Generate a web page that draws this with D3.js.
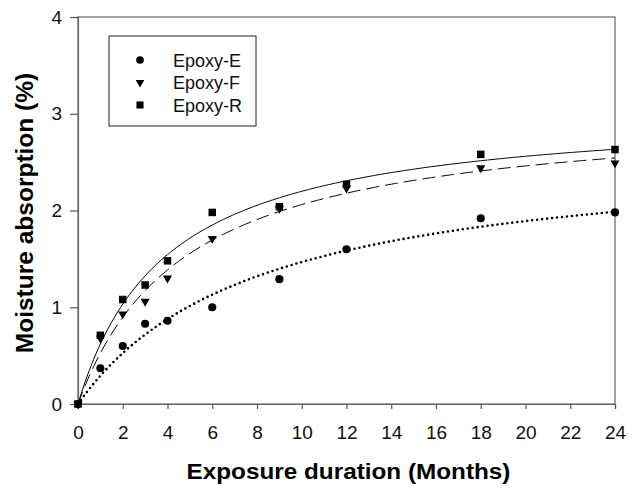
<!DOCTYPE html>
<html>
<head>
<meta charset="utf-8">
<script src="https://cdn.jsdelivr.net/npm/d3@7"></script>
<style>
  body { margin: 0; background: #fff; }
  text { font-family: "Liberation Sans", Arial, sans-serif; }
</style>
</head>
<body>
<div class="canva"></div>
<script>
// months of exposure
const months = [0, 1, 2, 3, 4, 6, 9, 12, 18, 24];
// moisture absorption (%) per resin
const epoxyE = [0, 0.37, 0.60, 0.83, 0.86, 1.00, 1.29, 1.60, 1.92, 1.98];
const epoxyF = [0, 0.68, 0.93, 1.06, 1.30, 1.71, 2.02, 2.23, 2.44, 2.49];
const epoxyR = [0, 0.71, 1.08, 1.23, 1.48, 1.98, 2.04, 2.27, 2.58, 2.63];
const seriesNames = ['Epoxy-E', 'Epoxy-F', 'Epoxy-R'];
const xTicks = [0, 2, 4, 6, 8, 10, 12, 14, 16, 18, 20, 22, 24];
const yTicks = [0, 1, 2, 3, 4];

const W = 632, H = 495;
const m = {left: 78, right: 17, top: 17, bottom: 91};

const svg = d3.select('.canva').append('svg')
  .attr('width', W).attr('height', H);

const x = d3.scaleLinear().domain([0, 24]).range([m.left, W - m.right]);
const y = d3.scaleLinear().domain([0, 4]).range([H - m.bottom, m.top]);

// least squares fit of y = a*x/(b+x) to each series
function fitHyper(ys) {
  let best = {a: 1, b: 1, e: Infinity};
  for (let b = 0.5; b <= 20; b += 0.01) {
    let sxy = 0, sxx = 0;
    months.forEach((t, i) => { const g = t / (b + t); sxy += g * ys[i]; sxx += g * g; });
    const a = sxy / sxx;
    let e = 0;
    months.forEach((t, i) => { const r = ys[i] - a * t / (b + t); e += r * r; });
    if (e < best.e) best = {a, b, e};
  }
  return best;
}

const series = [
  {name: seriesNames[0], vals: epoxyE, sym: d3.symbolCircle, size: 52, dash: '0,5', width: 2.6, cap: 'round'},
  {name: seriesNames[1], vals: epoxyF, sym: d3.symbolTriangle, size: 36, dash: '13,6', width: 1, cap: 'butt', down: true},
  {name: seriesNames[2], vals: epoxyR, sym: d3.symbolSquare, size: 56, dash: null, width: 1, cap: 'butt'}
];

// frame
svg.append('rect')
  .attr('x', m.left).attr('y', m.top)
  .attr('width', W - m.left - m.right).attr('height', H - m.top - m.bottom)
  .attr('fill', 'none').attr('stroke', '#666').attr('stroke-width', 1.2);

const xAxis = svg.append('g')
  .attr('transform', `translate(0,${H - m.bottom})`)
  .call(d3.axisBottom(x).tickValues(xTicks).tickFormat(d3.format('d')).tickSize(5).tickPadding(17));
const yAxis = svg.append('g')
  .attr('transform', `translate(${m.left},0)`)
  .call(d3.axisLeft(y).tickValues(yTicks).tickFormat(d3.format('d')).tickSize(8).tickPadding(8));
[xAxis, yAxis].forEach(g => {
  g.select('.domain').attr('stroke', '#666').attr('stroke-width', 1.2);
  g.selectAll('.tick line').attr('stroke', '#555').attr('stroke-width', 1.2);
  g.selectAll('.tick text').attr('font-size', 19).attr('fill', '#111')
    .style('font-family', '"Liberation Sans", Arial, sans-serif');
});

// fit curves
const line = d3.line().x(d => x(d[0])).y(d => y(d[1])).curve(d3.curveLinear);
series.forEach(s => {
  const f = fitHyper(s.vals);
  const pts = d3.range(0, 24.001, 0.1).map(t => [t, f.a * t / (f.b + t)]);
  svg.append('path')
    .attr('d', line(pts))
    .attr('fill', 'none').attr('stroke', '#000')
    .attr('stroke-width', s.width)
    .attr('stroke-dasharray', s.dash)
    .attr('stroke-linecap', s.cap);
});

// markers
series.forEach(s => {
  svg.append('g').selectAll('path')
    .data(months.map((t, i) => [t, s.vals[i]]))
    .join('path')
    .attr('transform', d => `translate(${x(d[0])},${y(d[1])})${s.down ? ' rotate(180)' : ''}`)
    .attr('d', d3.symbol().type(s.sym).size(s.size))
    .attr('fill', '#000');
});

// legend
const lg = svg.append('g');
lg.append('rect').attr('x', 109).attr('y', 36).attr('width', 147).attr('height', 90)
  .attr('fill', '#fff').attr('stroke', '#222').attr('stroke-width', 1);
series.forEach((s, i) => {
  const cy = 60 + i * 22.5;
  lg.append('path')
    .attr('transform', `translate(140,${cy})${s.down ? ' rotate(180)' : ''}`)
    .attr('d', d3.symbol().type(s.sym).size(s.size * 0.9))
    .attr('fill', '#000');
  lg.append('text').attr('x', 173).attr('y', cy + 6.5)
    .attr('font-size', 18).attr('fill', '#111').text(s.name);
});

// axis titles
svg.append('text')
  .attr('transform', `translate(${x(12) + 2},479) scale(1.13,1)`)
  .attr('text-anchor', 'middle').attr('font-size', 21.5).attr('font-weight', 'bold')
  .text('Exposure duration (Months)');
svg.append('text')
  .attr('transform', `translate(33,213) rotate(-90)`)
  .attr('text-anchor', 'middle').attr('font-size', 24.5).attr('font-weight', 'bold')
  .text('Moisture absorption (%)');
</script>
</body>
</html>
